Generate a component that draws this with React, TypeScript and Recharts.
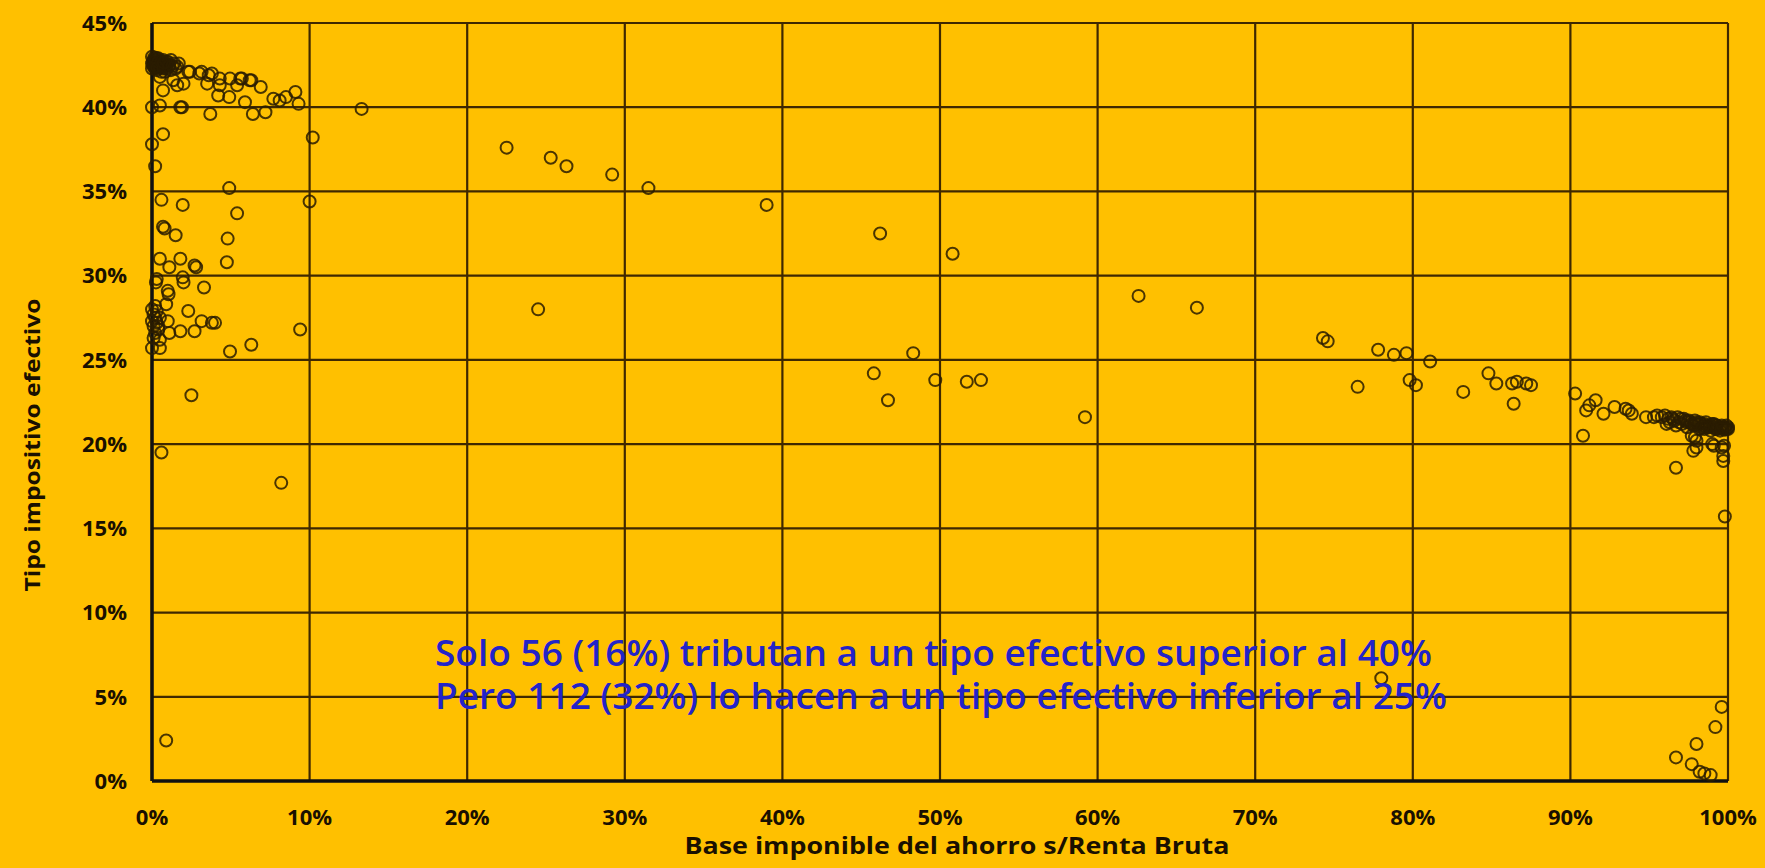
import React from "react";
import { CartesianGrid, Scatter, ScatterChart, XAxis, YAxis } from "recharts";

// x: base imponible del ahorro / renta bruta (%), y: tipo impositivo efectivo (%)
const xTicks = [0, 10, 20, 30, 40, 50, 60, 70, 80, 90, 100];
const yTicks = [0, 5, 10, 15, 20, 25, 30, 35, 40, 45];

const topLeftCluster: [number, number][] = [
  [0.1, 42.8], [0.2, 42.6], [0.3, 42.9], [0.4, 42.5], [0.5, 42.7], [0.6, 42.4],
  [0.7, 42.8], [0.8, 42.6], [0.9, 42.3], [1.0, 42.7], [1.1, 42.5], [1.2, 42.2],
  [1.4, 42.6], [1.6, 42.4], [0.2, 42.3], [0.4, 42.9], [0.1, 42.5], [0.6, 42.1],
  [0.3, 42.2], [0.8, 42.1], [1.2, 42.8], [1.5, 42.3], [0.0, 42.6], [0.0, 43.0],
  [0.05, 42.7], [0.15, 42.65], [0.25, 42.75], [0.35, 42.6], [0.45, 42.65], [0.55, 42.55],
  [0.65, 42.6], [0.75, 42.5], [0.85, 42.45], [0.95, 42.55], [0.1, 42.4], [0.3, 42.45],
  [0.5, 42.35], [0.7, 42.3], [0.2, 42.85], [0.4, 42.7], [0.6, 42.7], [0.9, 42.7],
  [1.05, 42.4], [1.3, 42.45], [0.0, 42.3], [0.15, 42.95], [0.35, 42.35], [0.75, 42.65],
];

const leftPoints: [number, number][] = [
  [1.7, 42.6], [2.3, 42.1], [2.4, 42.1], [3.0, 42.0], [3.15, 42.1], [3.6, 41.9],
  [3.8, 42.0], [4.3, 41.7], [4.95, 41.7], [5.4, 41.3], [5.6, 41.7], [5.7, 41.7],
  [6.2, 41.6], [6.3, 41.6], [6.9, 41.2], [0.5, 41.8], [1.35, 41.6], [2.0, 41.4],
  [3.5, 41.4], [4.3, 41.3], [0.7, 41.0], [1.6, 41.3], [4.2, 40.7], [4.9, 40.6],
  [5.9, 40.3], [6.4, 39.6], [7.2, 39.7], [7.7, 40.5], [8.1, 40.4], [8.5, 40.6],
  [9.1, 40.9], [9.3, 40.2], [13.3, 39.9], [3.7, 39.6], [1.8, 40.0], [1.9, 40.0],
  [0.0, 40.0], [0.5, 40.1], [0.7, 38.4], [0.0, 37.8], [0.2, 36.5], [10.2, 38.2],
  [4.9, 35.2], [10.0, 34.4], [0.6, 34.5], [1.95, 34.2], [5.4, 33.7], [0.7, 32.9],
  [0.8, 32.8], [1.5, 32.4], [4.8, 32.2], [4.75, 30.8], [0.5, 31.0], [1.8, 31.0],
  [1.1, 30.5], [2.7, 30.6], [2.8, 30.5], [1.95, 29.9], [0.25, 29.6], [0.3, 29.8],
  [1.0, 29.1], [1.05, 28.9], [3.3, 29.3], [2.0, 29.6], [0.9, 28.3], [2.3, 27.9],
  [1.0, 27.3], [3.15, 27.3], [3.8, 27.2], [4.0, 27.2], [1.8, 26.7], [2.7, 26.7],
  [1.1, 26.6], [0.5, 26.2], [0.0, 25.7], [0.5, 25.7], [4.95, 25.5], [6.3, 25.9],
  [9.4, 26.8], [2.5, 22.9], [0.6, 19.5], [8.2, 17.7], [0.9, 2.4],
  [0.0, 28.0], [0.1, 27.7], [0.2, 27.5], [0.3, 27.2], [0.1, 27.0], [0.4, 26.8],
  [0.2, 26.6], [0.0, 27.3], [0.3, 27.9], [0.5, 27.5], [0.1, 26.3], [0.4, 27.0],
  [0.2, 28.2],
];

const middlePoints: [number, number][] = [
  [22.5, 37.6], [25.3, 37.0], [26.3, 36.5], [29.2, 36.0], [31.5, 35.2], [39.0, 34.2],
  [46.2, 32.5], [50.8, 31.3], [24.5, 28.0], [62.6, 28.8], [66.3, 28.1], [48.3, 25.4],
  [45.8, 24.2], [49.7, 23.8], [51.7, 23.7], [52.6, 23.8], [46.7, 22.6], [59.2, 21.6],
];

const rightPoints: [number, number][] = [
  [74.3, 26.3], [74.6, 26.1], [77.8, 25.6], [78.8, 25.3], [79.6, 25.4], [81.1, 24.9],
  [76.5, 23.4], [79.8, 23.8], [80.2, 23.5], [83.2, 23.1], [84.8, 24.2], [85.3, 23.6],
  [86.3, 23.6], [86.6, 23.7], [86.4, 22.4], [87.2, 23.6], [87.5, 23.5], [78.0, 6.1],
  [90.3, 23.0], [90.8, 20.5], [91.0, 22.0], [91.2, 22.3], [91.6, 22.6], [92.1, 21.8],
  [92.8, 22.2], [93.5, 22.1], [93.7, 22.0], [93.9, 21.8], [94.8, 21.6],
  [97.9, 20.4], [97.8, 19.6], [98.0, 19.8], [99.1, 19.9], [99.75, 19.9], [96.7, 18.6],
  [99.7, 19.0], [99.8, 15.7],
  [99.6, 4.4], [99.2, 3.2], [98.0, 2.2], [96.7, 1.4], [97.7, 1.0], [98.2, 0.55],
  [98.5, 0.45], [98.9, 0.35],
];

const bottomRightCluster: [number, number][] = [
  [95.3, 21.6], [95.5, 21.7], [95.8, 21.6], [96.0, 21.7], [96.2, 21.5], [96.4, 21.6],
  [96.6, 21.4], [96.8, 21.6], [97.0, 21.5], [97.2, 21.5], [97.4, 21.3], [97.5, 21.4],
  [97.7, 21.2], [97.9, 21.4], [98.1, 21.2], [98.2, 21.3], [98.4, 21.1], [98.6, 21.3],
  [98.8, 21.0], [99.0, 21.2], [99.1, 21.0], [99.3, 21.1], [99.5, 21.0], [99.6, 21.1],
  [99.8, 21.0], [99.9, 20.9], [100.0, 21.0], [96.1, 21.2], [96.7, 21.1], [97.4, 21.0],
  [98.2, 20.9], [98.9, 20.8], [99.5, 20.8], [99.2, 20.9], [98.5, 20.9], [97.7, 20.5],
  [98.0, 20.2], [99.0, 20.0], [99.6, 19.8], [99.7, 19.3],
  [96.3, 21.3], [96.5, 21.5], [96.9, 21.3], [97.1, 21.2], [97.3, 21.4], [97.6, 21.3],
  [97.8, 21.1], [98.0, 21.3], [98.3, 21.2], [98.5, 21.2], [98.7, 21.1], [98.9, 21.1],
  [99.1, 21.2], [99.3, 20.9], [99.4, 21.0], [99.7, 21.0], [99.9, 21.1], [100.0, 20.9],
  [98.6, 21.0], [99.2, 21.1], [99.8, 20.85], [97.9, 21.2], [98.4, 21.0], [99.6, 20.9],
];

const noteLines = [
  "Solo 56 (16%) tributan a un tipo efectivo superior al 40%",
  "Pero 112 (32%) lo hacen a un tipo efectivo inferior al 25%",
];

const data = [
  ...topLeftCluster,
  ...leftPoints,
  ...middlePoints,
  ...rightPoints,
  ...bottomRightCluster,
].map(([x, y]) => ({ x, y }));

const RingDot = (props: any) => {
  const { cx, cy } = props;
  if (typeof cx !== "number" || typeof cy !== "number") return null;
  return (
    <circle
      cx={cx}
      cy={cy}
      r={6}
      fill="none"
      stroke="#2a1c00"
      strokeOpacity={0.85}
      strokeWidth={2}
    />
  );
};

const tickStyle = {
  fill: "#1a1000",
  fontSize: 22,
  fontWeight: 700,
  fontFamily: "'Open Sans', sans-serif",
};

export default function App() {
  return (
    <div
      style={{
        position: "relative",
        width: 1765,
        height: 868,
        background: "#FFC000",
      }}
    >
      <style>{"body{margin:0}"}</style>
      <ScatterChart
        width={1765}
        height={868}
        margin={{ top: 23, right: 37, bottom: 0, left: 0 }}
      >
        <CartesianGrid stroke="#3f2800" strokeWidth={2.2} />
        <XAxis
          type="number"
          dataKey="x"
          domain={[0, 100]}
          ticks={xTicks}
          tickFormatter={(v) => `${v}%`}
          height={87}
          tickLine={false}
          tickSize={0}
          tickMargin={28}
          axisLine={{ stroke: "#111", strokeWidth: 3.5 }}
          tick={tickStyle}
          interval={0}
        />
        <YAxis
          type="number"
          dataKey="y"
          domain={[0, 45]}
          ticks={yTicks}
          tickFormatter={(v) => `${v}%`}
          width={152}
          tickLine={false}
          tickSize={0}
          tickMargin={25}
          axisLine={{ stroke: "#111", strokeWidth: 3.5 }}
          tick={tickStyle}
          interval={0}
        />
        <Scatter data={data} shape={<RingDot />} isAnimationActive={false} />
      </ScatterChart>
      <svg
        width={1765}
        height={868}
        style={{ position: "absolute", left: 0, top: 0, pointerEvents: "none" }}
      >
        <text
          x={957}
          y={854}
          textAnchor="middle"
          fill="#1a1000"
          fontSize={23}
          fontWeight={700}
          fontFamily="'Open Sans', sans-serif"
          textLength={545}
          lengthAdjust="spacingAndGlyphs"
        >
          Base imponible del ahorro s/Renta Bruta
        </text>
        <text
          transform="translate(40 445) rotate(-90)"
          textAnchor="middle"
          fill="#1a1000"
          fontSize={22}
          fontWeight={700}
          fontFamily="'Open Sans', sans-serif"
          textLength={293}
          lengthAdjust="spacingAndGlyphs"
        >
          Tipo impositivo efectivo
        </text>
        {noteLines.map((line, i) => (
          <text
            key={line}
            x={435}
            y={666 + i * 43}
            fill="#2323c8"
            fontSize={36}
            fontWeight={600}
            fontFamily="'Open Sans', sans-serif"
            textLength={i === 0 ? 997 : 1012}
            lengthAdjust="spacingAndGlyphs"
          >
            {line}
          </text>
        ))}
      </svg>
    </div>
  );
}
